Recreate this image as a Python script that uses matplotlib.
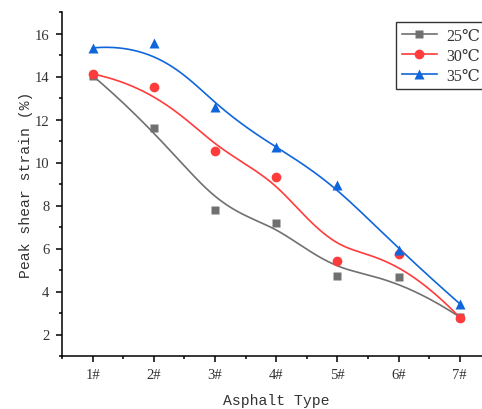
import numpy as np
import matplotlib.pyplot as plt
from matplotlib.ticker import MultipleLocator

# Peak shear strain (%) for each asphalt type at three temperatures
types = ['1#', '2#', '3#', '4#', '5#', '6#', '7#']
strain_25 = [14.04, 11.62, 7.78, 7.17, 4.70, 4.67, 2.81]
strain_30 = [14.12, 13.53, 10.52, 9.33, 5.40, 5.73, 2.79]
strain_35 = [15.33, 15.58, 12.57, 10.70, 8.95, 5.93, 3.43]
labels = ['25\u2103', '30\u2103', '35\u2103']

serif = ['Liberation Serif', 'DejaVu Serif']
mono = ['Liberation Mono', 'DejaVu Sans Mono']


def bspline(px, py, deg=3, num=300):
    # clamped uniform B-spline using the data points as control points
    px = np.asarray(px, float)
    py = np.asarray(py, float)
    n = len(px)
    inner = np.linspace(0, 1, n - deg + 1)
    knots = np.concatenate([np.zeros(deg), inner, np.ones(deg)])
    t = np.linspace(0, 1, num)
    t[-1] -= 1e-10
    B = np.zeros((num, len(knots) - 1))
    for i in range(len(knots) - 1):
        B[:, i] = (t >= knots[i]) & (t < knots[i + 1])
    for k in range(1, deg + 1):
        Bn = np.zeros((num, len(knots) - 1 - k))
        for i in range(len(knots) - 1 - k):
            a = knots[i + k] - knots[i]
            b = knots[i + k + 1] - knots[i + 1]
            left = (t - knots[i]) / a * B[:, i] if a > 0 else 0
            right = (knots[i + k + 1] - t) / b * B[:, i + 1] if b > 0 else 0
            Bn[:, i] = left + right
        B = Bn
    return B @ px, B @ py


fig = plt.figure(figsize=(4.82, 4.10), dpi=100)
ax = fig.add_axes([62 / 482, 53 / 410, 428.4 / 482, 344 / 410])

x = np.arange(1, len(types) + 1)
series = [
    (strain_25, '#707070', 's', 6.0),
    (strain_30, '#FF3B3B', 'o', 7.0),
    (strain_35, '#0F66DC', '^', 7.5),
]
handles = []
for (vals, col, mk, ms), lab in zip(series, labels):
    sx, sy = bspline(x, vals)
    ax.plot(sx, sy, color=col, lw=1.2, zorder=2)
    ax.plot(x, vals, ls='none', marker=mk, ms=ms, color=col, mec='none', zorder=3)
    h, = ax.plot([], [], color=col, lw=1.2, marker=mk, ms=ms, mec='none', label=lab)
    handles.append(h)

ax.set_xlim(0.5, 7.5)
ax.set_ylim(1, 17)
ax.set_xticks(x)
ax.set_xticklabels(types)
ax.xaxis.set_minor_locator(MultipleLocator(0.5))
ax.yaxis.set_major_locator(MultipleLocator(2))
ax.yaxis.set_minor_locator(MultipleLocator(1))
ax.set_yticks(np.arange(2, 17, 2))

for s in ['top', 'right']:
    ax.spines[s].set_visible(False)
for s in ['left', 'bottom']:
    ax.spines[s].set_linewidth(1.1)
ax.tick_params(which='major', direction='out', length=4, width=1.1, colors='black',
               labelsize=10.5, labelcolor='#333333', pad=5)
ax.tick_params(which='minor', direction='out', length=2.5, width=1.1, colors='black')
for lbl in ax.get_xticklabels() + ax.get_yticklabels():
    lbl.set_family(serif)

ax.set_xlabel('Asphalt Type', family=mono, fontsize=10.6, color='#333333', labelpad=8)
ax.set_ylabel('Peak shear strain (%)', family=mono, fontsize=10.6, color='#333333', labelpad=1)

leg = fig.legend(handles=handles, loc='upper left', bbox_to_anchor=(396 / 482, 1 - 23 / 410),
                 prop={'family': serif, 'size': 11.5}, frameon=True, fancybox=False,
                 edgecolor='black', handlelength=2.2, handletextpad=0.6,
                 borderpad=0.35, labelspacing=0.25, borderaxespad=0)
leg.get_frame().set_linewidth(1.0)
for t in leg.get_texts():
    t.set_color('#333333')

fig.savefig('out.png', dpi=100)
